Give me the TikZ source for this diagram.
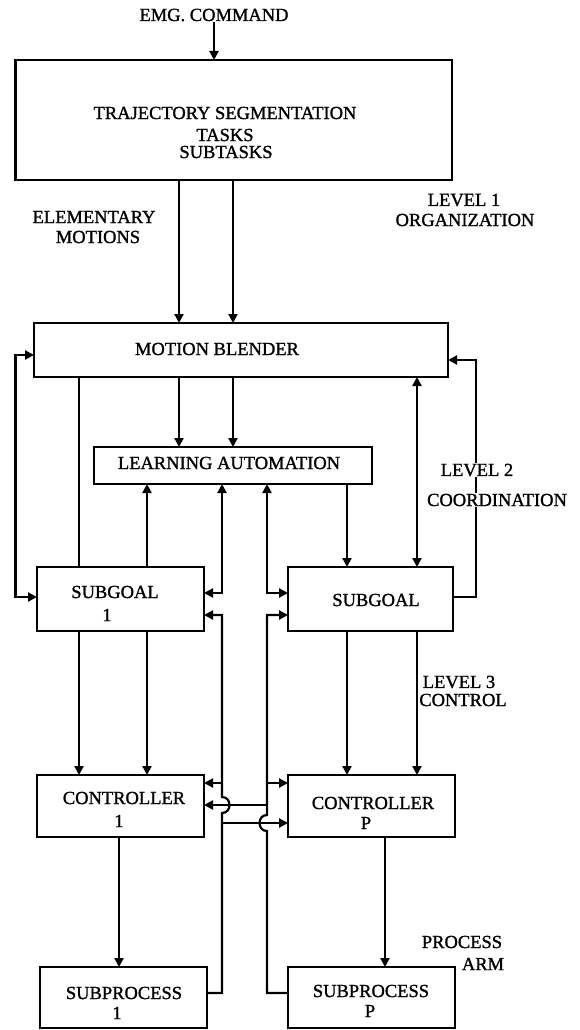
\documentclass[tikz,border=0pt]{standalone}
\usepackage{fontspec}
\setmainfont{Liberation Serif}
\newfontfamily\scanfont{Liberation Serif}[FakeBold=1.2]
\usetikzlibrary{arrows.meta}
\begin{document}
\begin{tikzpicture}[x=1pt,y=-1pt,
  blk/.style={draw,line width=2.4pt,inner sep=0pt,outer sep=0pt},
  lbl/.style={inner sep=0.5pt,font=\scanfont\fontsize{18.5}{20}\selectfont},
  ln/.style={line width=2.2pt},
  arr/.style={ln,-{Triangle[length=9pt,width=9pt]}},
  darr/.style={ln,{Triangle[length=9pt,width=9pt]}-{Triangle[length=9pt,width=9pt]}}]
\fill[white] (0,0) rectangle (580,1030);
\useasboundingbox (0,0) rectangle (580,1030);
% boxes
\node[blk,minimum width=436.5pt,minimum height=120pt] (top) at (233.75,120) {};
\node[blk,minimum width=414pt,minimum height=54pt] (mb) at (241,350) {};
\node[blk,minimum width=278pt,minimum height=37pt] (la) at (233,465.5) {};
\node[blk,minimum width=167pt,minimum height=64pt] (sg1) at (120.5,599) {};
\node[blk,minimum width=165pt,minimum height=64pt] (sgp) at (370.5,599) {};
\node[blk,minimum width=167pt,minimum height=62pt] (c1) at (120.5,806) {};
\node[blk,minimum width=167pt,minimum height=62pt] (cp) at (371.5,806) {};
\node[blk,minimum width=167pt,minimum height=61pt] (sp1) at (123.5,997.5) {};
\node[blk,minimum width=167pt,minimum height=61pt] (spp) at (371.5,997.5) {};
% reference coordinates
\coordinate (xA) at (79,0);
\coordinate (xB) at (147,0);
\coordinate (xC) at (179,0);
\coordinate (xD) at (222,0);
\coordinate (xE) at (233,0);
\coordinate (xF) at (267,0);
\coordinate (xG) at (347,0);
\coordinate (xH) at (417,0);
\coordinate (xI) at (476,0);
\coordinate (xJ) at (119,0);
\coordinate (xK) at (385,0);
\coordinate (xL) at (15.5,0);
\coordinate (yA) at (0,355);
\coordinate (yB) at (0,360);
\coordinate (yC) at (0,597);
\coordinate (yD) at (0,593);
\coordinate (yE) at (0,615);
\coordinate (yF) at (0,783);
\coordinate (yG) at (0,805);
\coordinate (yH) at (0,823);
\coordinate (yI) at (0,993);
\coordinate (hLa) at (222,813);
\coordinate (hLb) at (222,797);
\coordinate (hRa) at (267,831);
\coordinate (hRb) at (267,815);
% input
\node[lbl] (emg) at (214,15) {EMG. COMMAND};
\draw[arr] (emg.south) -- (emg.south |- top.north);
% top to motion blender
\draw[arr] (top.south -| xC) -- (mb.north -| xC);
\draw[arr] (top.south -| xE) -- (mb.north -| xE);
% motion blender to learning automation
\draw[arr] (mb.south -| xC) -- (la.north -| xC);
\draw[arr] (mb.south -| xE) -- (la.north -| xE);
% motion blender to subgoals
\draw[ln] (mb.south -| xA) -- (sg1.north -| xA);
\draw[darr] (mb.south -| xH) -- (sgp.north -| xH);
% side feedback loops
\draw[darr] (sg1.west |- yC) -| (xL |- yA) -- (mb.west |- yA);
\draw[arr] (sgp.east |- yC) -| (xI |- yB) -- (mb.east |- yB);
% learning automation links
\draw[arr] (sg1.north -| xB) -- (la.south -| xB);
\draw[darr] (sg1.east |- yD) -| (la.south -| xD);
\draw[darr] (sgp.west |- yD) -| (la.south -| xF);
\draw[arr] (la.south -| xG) -- (sgp.north -| xG);
% subgoals to controllers
\draw[arr] (sg1.south -| xA) -- (c1.north -| xA);
\draw[arr] (sg1.south -| xB) -- (c1.north -| xB);
\draw[arr] (sgp.south -| xG) -- (cp.north -| xG);
\draw[arr] (sgp.south -| xH) -- (cp.north -| xH);
% controllers to subprocesses
\draw[arr] (c1.south -| xJ) -- (sp1.north -| xJ);
\draw[arr] (cp.south -| xK) -- (spp.north -| xK);
% feedback from subprocesses
\draw[arr] (sp1.east |- yI) -- (xD |- yI) -- (hLa) .. controls +(10,0) and +(10,0) .. (hLb) -- (xD |- yE) -- (sg1.east |- yE);
\draw[arr] (spp.west |- yI) -- (xF |- yI) -- (hRa) .. controls +(-10,0) and +(-10,0) .. (hRb) -- (xF |- yE) -- (sgp.west |- yE);
\draw[arr] (xD |- yF) -- (c1.east |- yF);
\draw[arr] (xD |- yH) -- (cp.west |- yH);
\draw[arr] (xF |- yF) -- (cp.west |- yF);
\draw[arr] (xF |- yG) -- (c1.east |- yG);
% texts
\node[lbl] (t1) at (225,113) {TRAJECTORY SEGMENTATION};
\node[lbl] (t2) at (225,135) {TASKS};
\node[lbl] (t3) at (226,152) {SUBTASKS};
\node[lbl] (em1) at (94,217) {ELEMENTARY};
\node[lbl] (em2) at (98,237) {MOTIONS};
\node[lbl] (lv1a) at (464,200) {LEVEL 1};
\node[lbl] (lv1b) at (465,220) {ORGANIZATION};
\node[lbl] (mbt) at (217,349) {MOTION BLENDER};
\node[lbl] (lat) at (229,463) {LEARNING AUTOMATION};
\node[lbl,fill=white,inner sep=1pt] (lv2a) at (477,470) {LEVEL 2};
\node[lbl,fill=white,inner sep=1pt] (lv2b) at (497,500) {COORDINATION};
\node[lbl] (sg1a) at (115,592) {SUBGOAL};
\node[lbl] (sg1b) at (107,615) {1};
\node[lbl] (sgpa) at (376,600) {SUBGOAL};
\node[lbl] (lv3a) at (459,682) {LEVEL 3};
\node[lbl] (lv3b) at (463,700) {CONTROL};
\node[lbl] (c1a) at (124,798) {CONTROLLER};
\node[lbl] (c1b) at (119,821) {1};
\node[lbl] (cpa) at (373,803) {CONTROLLER};
\node[lbl] (cpb) at (366,823) {P};
\node[lbl] (pra) at (462,942) {PROCESS};
\node[lbl] (prb) at (483,964) {ARM};
\node[lbl] (sp1a) at (124,993) {SUBPROCESS};
\node[lbl] (sp1b) at (117,1013) {1};
\node[lbl] (sppa) at (371,991) {SUBPROCESS};
\node[lbl] (sppb) at (370,1011) {P};
\end{tikzpicture}
\end{document}
